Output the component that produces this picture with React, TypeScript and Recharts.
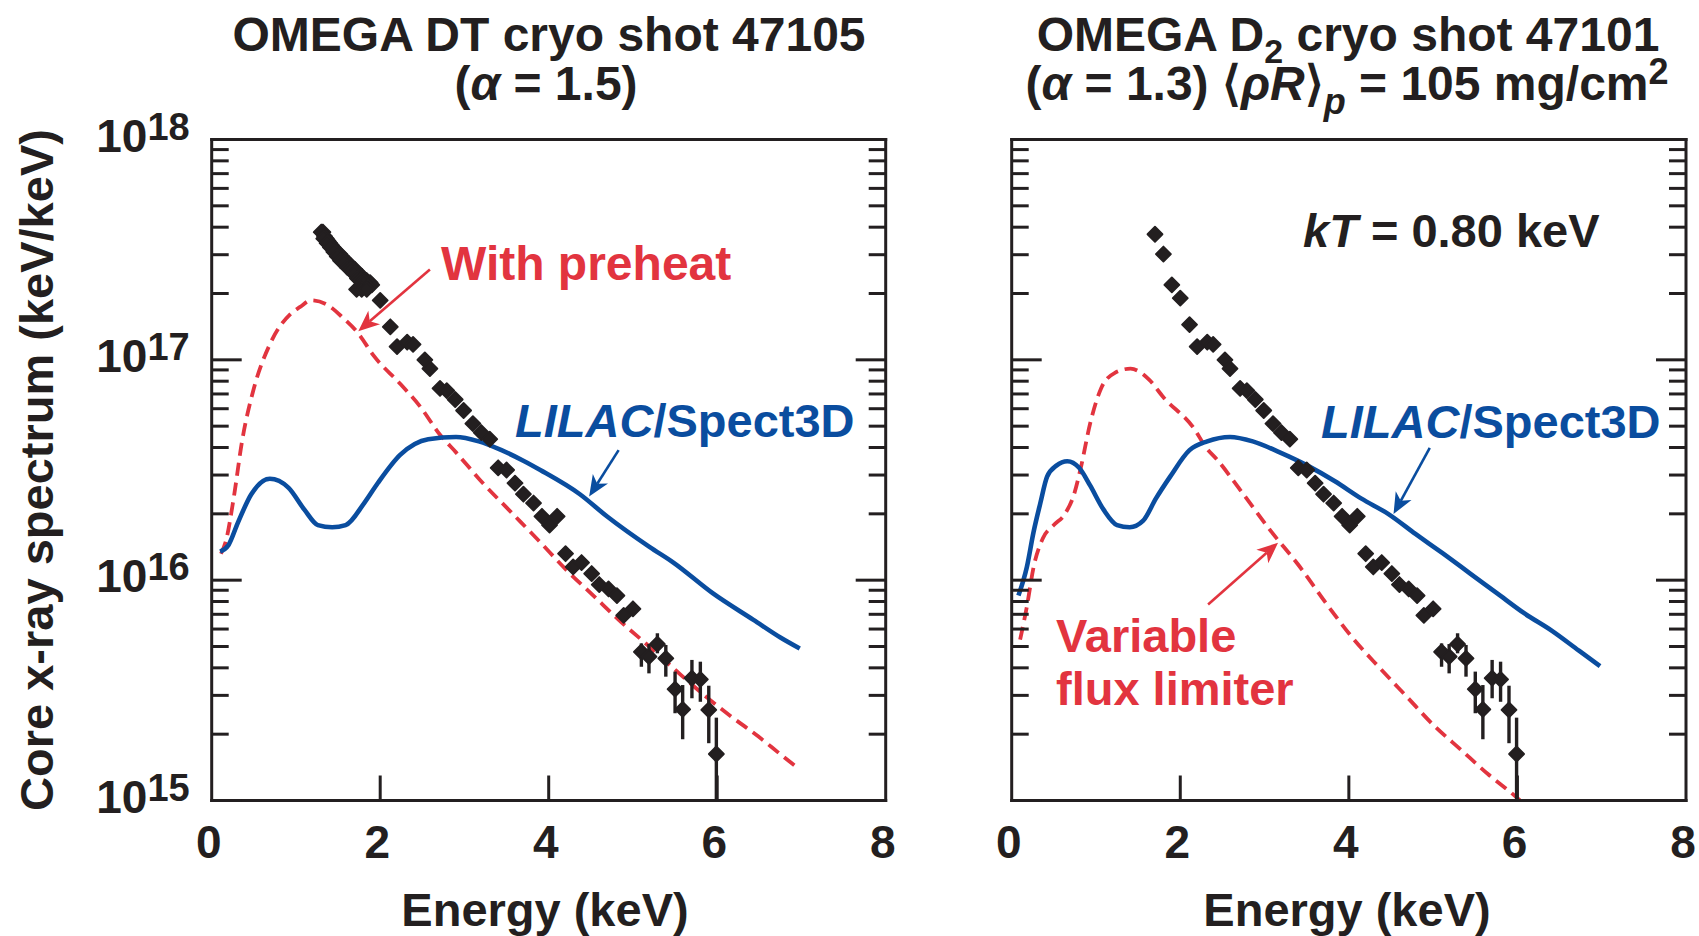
import React from 'react';
import { ComposedChart, Line, Scatter, XAxis, YAxis, ErrorBar, ReferenceLine } from 'recharts';

const INK = '#231f20';
const RED = '#e2343f';
const BLUE = '#0a4d9f';
const FONT = '"Liberation Sans", Arial, Helvetica, sans-serif';

const energyTicks = [0, 2, 4, 6, 8];
const decadeExps = [15, 16, 17, 18];
const minorSteps = [2, 3, 4, 5, 6, 7, 8, 9];

// all spectrum values are log10(keV/keV)

// shot 47105 (DT)
const lilacDtE = [0.1, 0.2, 0.31, 0.47, 0.69, 0.91, 1.1, 1.26, 1.43, 1.59, 1.81, 1.97, 2.24, 2.57, 2.9, 3.17, 3.44, 3.71, 3.9, 4.37, 4.69, 5.2, 5.48, 5.95, 6.43, 6.75, 6.98];
const lilacDtLog = [16.13, 16.16, 16.26, 16.39, 16.46, 16.42, 16.32, 16.25, 16.24, 16.25, 16.35, 16.44, 16.57, 16.64, 16.65, 16.63, 16.59, 16.54, 16.5, 16.39, 16.29, 16.15, 16.08, 15.94, 15.82, 15.74, 15.69];

const preheatE = [0.11, 0.17, 0.26, 0.36, 0.5, 0.69, 0.94, 1.05, 1.18, 1.37, 1.56, 1.74, 1.92, 2.24, 2.47, 2.71, 2.9, 3.22, 3.55, 3.88, 4.2, 4.53, 4.86, 5.19, 5.51, 5.84, 6.17, 6.49, 6.75, 6.98];
const preheatLog = [16.12, 16.18, 16.37, 16.63, 16.87, 17.07, 17.21, 17.24, 17.27, 17.25, 17.19, 17.12, 17.02, 16.89, 16.79, 16.66, 16.58, 16.44, 16.31, 16.18, 16.05, 15.93, 15.81, 15.7, 15.59, 15.48, 15.38, 15.29, 15.21, 15.14];

const dtHeadE = [1.3, 1.32, 1.34, 1.36, 1.38, 1.4, 1.42, 1.44, 1.46, 1.48, 1.5, 1.52, 1.54, 1.56, 1.58, 1.6, 1.62, 1.64, 1.66, 1.68, 1.7, 1.72, 1.74, 1.76, 1.78, 1.8, 1.82, 1.84, 1.86, 1.88, 1.9,
  1.33, 1.37, 1.41, 1.45, 1.49, 1.53, 1.57, 1.61, 1.65, 1.69, 1.73, 1.77, 1.81, 1.85, 1.72, 1.78, 1.84, 2.0, 2.12];
const dtHeadLog = [17.58, 17.58, 17.56, 17.55, 17.54, 17.53, 17.52, 17.51, 17.5, 17.49, 17.48, 17.48, 17.47, 17.46, 17.45, 17.44, 17.44, 17.43, 17.42, 17.41, 17.41, 17.4, 17.39, 17.38, 17.38, 17.37, 17.36, 17.36, 17.35, 17.35, 17.34,
  17.55, 17.53, 17.51, 17.49, 17.47, 17.45, 17.44, 17.42, 17.41, 17.39, 17.37, 17.36, 17.35, 17.33, 17.32, 17.32, 17.32, 17.27, 17.15];

// shot 47101 (D2)
const lilacD2E = [0.08, 0.18, 0.26, 0.34, 0.42, 0.53, 0.66, 0.8, 0.93, 1.09, 1.25, 1.4, 1.56, 1.71, 1.88, 2.11, 2.32, 2.59, 2.86, 3.18, 3.51, 3.83, 4.15, 4.47, 4.79, 5.12, 5.44, 5.76, 6.08, 6.41, 6.73, 6.98];
const lilacD2Log = [15.93, 16.06, 16.22, 16.35, 16.47, 16.52, 16.54, 16.51, 16.43, 16.32, 16.25, 16.24, 16.27, 16.37, 16.47, 16.59, 16.63, 16.65, 16.63, 16.58, 16.52, 16.45, 16.37, 16.3, 16.21, 16.12, 16.03, 15.94, 15.85, 15.77, 15.68, 15.61];

const fluxLimE = [0.1, 0.18, 0.26, 0.37, 0.5, 0.63, 0.74, 0.82, 0.93, 1.06, 1.22, 1.41, 1.63, 1.8, 2.16, 2.31, 2.43, 2.71, 3.08, 3.4, 3.72, 4.04, 4.37, 4.69, 5.01, 5.33, 5.65, 6.03, 6.11];
const fluxLimLog = [15.73, 15.88, 16.06, 16.19, 16.25, 16.3, 16.39, 16.51, 16.71, 16.87, 16.94, 16.96, 16.91, 16.83, 16.69, 16.6, 16.55, 16.41, 16.22, 16.07, 15.9, 15.74, 15.6, 15.47, 15.34, 15.23, 15.12, 15.0, 14.97];

const d2HeadE = [1.7, 1.8, 1.9, 2.0, 2.11];
const d2HeadLog = [17.57, 17.48, 17.34, 17.28, 17.16];

// measured points common to both panels
const measE = [2.2, 2.32, 2.39, 2.53, 2.59, 2.71, 2.79, 2.89, 2.99, 3.1, 3.2, 3.3, 3.4, 3.5, 3.6, 3.7, 3.82, 3.92, 4.01, 4.1, 4.2, 4.29, 4.39, 4.51, 4.6, 4.71, 4.81, 4.89, 5.0];
const measLog = [17.06, 17.08, 17.07, 17.0, 16.96, 16.87, 16.86, 16.82, 16.77, 16.71, 16.67, 16.64, 16.51, 16.5, 16.44, 16.39, 16.35, 16.29, 16.25, 16.29, 16.12, 16.06, 16.08, 16.03, 15.98, 15.96, 15.93, 15.84, 15.87];

const errE = [5.1, 5.19, 5.29, 5.39, 5.5, 5.59, 5.7, 5.8, 5.9, 5.99];
const errLog = [15.675, 15.653, 15.71, 15.645, 15.505, 15.414, 15.555, 15.55, 15.411, 15.211];
const errLoLog = [15.607, 15.577, 15.668, 15.562, 15.396, 15.278, 15.464, 15.448, 15.26, 15.0];
const errHiLog = [15.713, 15.71, 15.759, 15.706, 15.585, 15.524, 15.638, 15.63, 15.521, 15.376];

const pow = (l: number) => Math.pow(10, l);
const rows = (es: number[], logs: number[]) => es.map((e, i) => ({ e, v: pow(logs[i]) }));
const errRows = (es: number[], logs: number[], lo: number[], hi: number[]) =>
  es.map((e, i) => {
    const v = pow(logs[i]);
    return { e, v, err: [v - pow(lo[i]), pow(hi[i]) - v] };
  });

const yTicks = decadeExps.flatMap((d) =>
  d === 18 ? [pow(d)] : [pow(d), ...minorSteps.map((m) => m * pow(d))]
);
const expOf = (v: number) => Math.log10(v);
const isDecade = (v: number) => Math.abs(expOf(v) - Math.round(expOf(v))) < 1e-6;

const LeftTick = (props: any) => {
  const { x, y, payload, withLabels } = props;
  const v = payload.value;
  const major = isDecade(v);
  return (
    <g>
      <line x1={x} x2={x + (major ? 30 : 17)} y1={y} y2={y} stroke={INK} strokeWidth={3} />
      {withLabels && major && (
        <text x={x - 22} y={y + 12} textAnchor="end" fontFamily={FONT} fontWeight="bold" fontSize={46} fill={INK}>
          10<tspan dy={-12} fontSize={38}>{Math.round(expOf(v))}</tspan>
        </text>
      )}
    </g>
  );
};

const RightTick = (props: any) => {
  const { x, y, payload } = props;
  const major = isDecade(payload.value);
  return <line x1={x} x2={x - (major ? 30 : 17)} y1={y} y2={y} stroke={INK} strokeWidth={3} />;
};

const BottomTick = (props: any) => {
  const { x, y, payload } = props;
  const inner = payload.value > 0 && payload.value < 8;
  return (
    <g>
      {inner && <line x1={x} x2={x} y1={y} y2={y - 25} stroke={INK} strokeWidth={3} />}
      <text x={x - 3} y={y + 57.5} textAnchor="middle" fontFamily={FONT} fontWeight="bold" fontSize={46} fill={INK}>
        {payload.value}
      </text>
    </g>
  );
};

const TopTick = (props: any) => {
  const { x, y, payload } = props;
  if (!(payload.value > 0 && payload.value < 8)) return <g />;
  return <line x1={x} x2={x} y1={y} y2={y + 25} stroke={INK} strokeWidth={3} />;
};

const Diamond = (props: any) => {
  const { cx, cy } = props;
  if (cx == null || cy == null) return <g />;
  return (
    <polygon
      points={`${cx},${cy - 7.5} ${cx + 7.5},${cy} ${cx},${cy + 7.5} ${cx - 7.5},${cy}`}
      fill={INK}
      stroke={INK}
      strokeWidth={1.8}
      strokeLinejoin="round"
    />
  );
};

const arrowShape = (color: string) => (props: any) => {
  const { x1, y1, x2, y2 } = props;
  const dx = x2 - x1;
  const dy = y2 - y1;
  const len = Math.hypot(dx, dy) || 1;
  const ux = dx / len;
  const uy = dy / len;
  const headL = 21;
  const headW = 9;
  const bx = x2 - ux * headL;
  const by = y2 - uy * headL;
  const nx = x2 - ux * headL * 0.72;
  const ny = y2 - uy * headL * 0.72;
  const d = `M${x2},${y2} L${bx - uy * headW},${by + ux * headW} L${nx},${ny} L${bx + uy * headW},${by - ux * headW} Z`;
  return (
    <g>
      <line x1={x1} y1={y1} x2={nx} y2={ny} stroke={color} strokeWidth={2.6} />
      <path d={d} fill={color} />
    </g>
  );
};

type Arrow = { from: [number, number]; to: [number, number]; color: string };

const frameLine = { stroke: INK, strokeWidth: 3, strokeLinecap: 'square' as const };

interface PanelProps {
  width: number;
  margin: { top: number; left: number; right: number; bottom: number };
  lilac: { e: number; v: number }[];
  model: { e: number; v: number }[];
  points: { e: number; v: number }[];
  errPoints: { e: number; v: number; err: number[] }[];
  arrows: Arrow[];
  withLabels: boolean;
}

// axes get 1px of room (a 0px axis is not drawn), margins are cut by that pixel
const Panel = ({ width, margin, lilac, model, points, errPoints, arrows, withLabels }: PanelProps) => (
  <ComposedChart
    width={width}
    height={936}
    margin={{ top: margin.top - 1, left: margin.left - 1, right: margin.right - 1, bottom: margin.bottom - 1 }}
  >
    <XAxis xAxisId="b" type="number" dataKey="e" domain={[0, 8]} ticks={energyTicks} interval={0}
      height={1} tickSize={0} tickMargin={0} axisLine={frameLine} tickLine={false} tick={(p: any) => <BottomTick {...p} />} />
    <XAxis xAxisId="t" orientation="top" type="number" dataKey="e" domain={[0, 8]} ticks={energyTicks} interval={0}
      height={1} tickSize={0} tickMargin={0} axisLine={frameLine} tickLine={false} tick={(p: any) => <TopTick {...p} />} />
    <YAxis yAxisId="l" type="number" dataKey="v" scale="log" domain={[1e15, 1e18]} allowDataOverflow ticks={yTicks} interval={0}
      width={1} tickSize={0} tickMargin={0} axisLine={frameLine} tickLine={false} tick={(p: any) => <LeftTick {...p} withLabels={withLabels} />} />
    <YAxis yAxisId="r" orientation="right" type="number" dataKey="v" scale="log" domain={[1e15, 1e18]} allowDataOverflow ticks={yTicks} interval={0}
      width={1} tickSize={0} tickMargin={0} axisLine={frameLine} tickLine={false} tick={(p: any) => <RightTick {...p} />} />

    <Line xAxisId="b" yAxisId="l" data={model} dataKey="v" type="monotone" stroke={RED} strokeWidth={3.8}
      strokeDasharray="13 7" dot={false} activeDot={false} isAnimationActive={false} />
    <Line xAxisId="b" yAxisId="l" data={lilac} dataKey="v" type="monotone" stroke={BLUE} strokeWidth={4.6}
      dot={false} activeDot={false} isAnimationActive={false} />
    <Scatter xAxisId="b" yAxisId="l" data={points} dataKey="v" shape={(p: any) => <Diamond {...p} />} isAnimationActive={false} />
    <Scatter xAxisId="b" yAxisId="l" data={errPoints} dataKey="v" shape={(p: any) => <Diamond {...p} />} isAnimationActive={false}>
      <ErrorBar dataKey="err" direction="y" width={0} stroke={INK} strokeWidth={3.4} />
    </Scatter>

    {arrows.map((a, i) => (
      <ReferenceLine key={i} xAxisId="b" yAxisId="l" ifOverflow="visible"
        segment={[{ x: a.from[0], y: pow(a.from[1]) }, { x: a.to[0], y: pow(a.to[1]) }]}
        shape={arrowShape(a.color)} />
    ))}
  </ComposedChart>
);

const dtArrows: Arrow[] = [
  { from: [2.59, 17.41], to: [1.74, 17.13], color: RED },
  { from: [4.83, 16.59], to: [4.48, 16.38], color: BLUE },
];
const d2Arrows: Arrow[] = [
  { from: [2.33, 15.89], to: [3.16, 16.17], color: RED },
  { from: [4.96, 16.6], to: [4.53, 16.3], color: BLUE },
];

const txt = { fontFamily: FONT, fontWeight: 'bold' as const };

export default function App() {
  const measured = rows(measE, measLog);
  const withErr = errRows(errE, errLog, errLoLog, errHiLog);
  return (
    <div style={{ position: 'absolute', left: 0, top: 0, width: 1699, height: 936, background: '#fff', overflow: 'hidden' }}>
      <div style={{ position: 'absolute', left: 0, top: 0 }}>
        <Panel
          width={900}
          margin={{ top: 139.5, left: 211.7, right: 14.3, bottom: 135.5 }}
          lilac={rows(lilacDtE, lilacDtLog)}
          model={rows(preheatE, preheatLog)}
          points={[...rows(dtHeadE, dtHeadLog), ...measured]}
          errPoints={withErr}
          arrows={dtArrows}
          withLabels
        />
      </div>
      <div style={{ position: 'absolute', left: 900, top: 0 }}>
        <Panel
          width={799}
          margin={{ top: 139.5, left: 111.7, right: 13, bottom: 135.5 }}
          lilac={rows(lilacD2E, lilacD2Log)}
          model={rows(fluxLimE, fluxLimLog)}
          points={[...rows(d2HeadE, d2HeadLog), ...measured]}
          errPoints={withErr}
          arrows={d2Arrows}
          withLabels={false}
        />
      </div>
      <svg width={1699} height={936} style={{ position: 'absolute', left: 0, top: 0, pointerEvents: 'none' }}>
        <g {...txt} fill={INK} fontSize={48}>
          <text x={549} y={51} textAnchor="middle">OMEGA DT cryo shot 47105</text>
          <text x={546} y={100} textAnchor="middle">(<tspan fontStyle="italic">α</tspan> = 1.5)</text>
          <text x={1348} y={51} textAnchor="middle">
            OMEGA D<tspan fontSize={34} dy={12}>2</tspan><tspan dy={-12}> cryo shot 47101</tspan>
          </text>
          <text x={1347} y={100} textAnchor="middle">
            (<tspan fontStyle="italic">α</tspan> = 1.3) ⟨<tspan fontStyle="italic">ρR</tspan>⟩
            <tspan fontStyle="italic" fontSize={36} dy={14}>p</tspan>
            <tspan dy={-14}> = 105 mg/cm</tspan>
            <tspan fontSize={36} dy={-16}>2</tspan>
          </text>
        </g>
        <g {...txt} fill={INK} fontSize={47}>
          <text transform="translate(53,470) rotate(-90)" textAnchor="middle">Core x-ray spectrum (keV/keV)</text>
          <text x={545} y={926} textAnchor="middle">Energy (keV)</text>
          <text x={1347} y={926} textAnchor="middle">Energy (keV)</text>
          <text x={1303} y={247}><tspan fontStyle="italic">kT</tspan> = 0.80 keV</text>
        </g>
        <g {...txt} fontSize={47}>
          <text x={441} y={280} fill={RED} fontSize={48}>With preheat</text>
          <text x={515} y={437} fill={BLUE}><tspan fontStyle="italic">LILAC</tspan>/Spect3D</text>
          <text x={1321} y={438} fill={BLUE}><tspan fontStyle="italic">LILAC</tspan>/Spect3D</text>
          <text x={1056} y={652} fill={RED}>Variable</text>
          <text x={1056} y={705} fill={RED}>flux limiter</text>
        </g>
      </svg>
    </div>
  );
}
